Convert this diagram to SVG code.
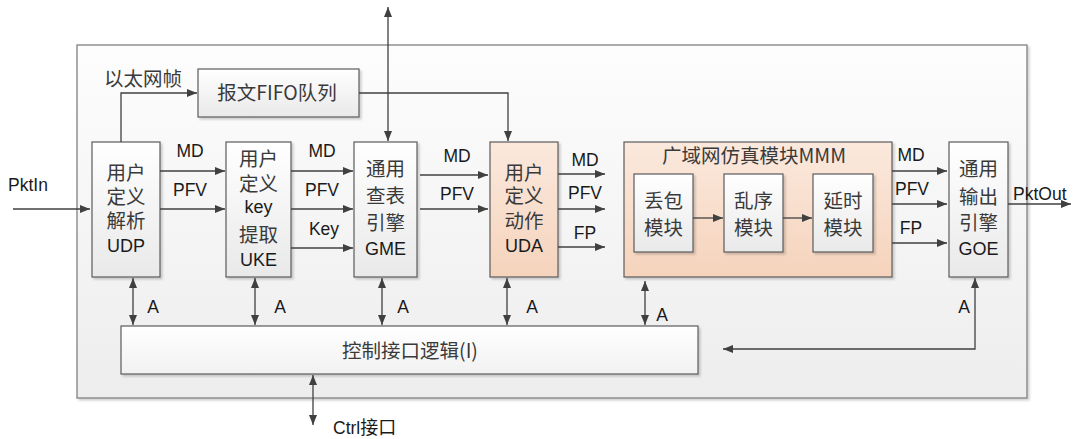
<svg xmlns="http://www.w3.org/2000/svg" width="1075" height="439" viewBox="0 0 1075 439">
<defs>
<linearGradient id="gOuter" x1="0" y1="0" x2="0" y2="1"><stop offset="0" stop-color="#fdfdfd"/><stop offset="1" stop-color="#ededed"/></linearGradient>
<linearGradient id="gWhite" x1="0" y1="0" x2="0" y2="1"><stop offset="0" stop-color="#ffffff"/><stop offset="1" stop-color="#e9e9e9"/></linearGradient>
<linearGradient id="gOrange" x1="0" y1="0" x2="0" y2="1"><stop offset="0" stop-color="#fbe9dd"/><stop offset="1" stop-color="#f5d3bc"/></linearGradient>
<linearGradient id="gCtrl" x1="0" y1="0" x2="0" y2="1"><stop offset="0" stop-color="#ffffff"/><stop offset="1" stop-color="#f1f1f1"/></linearGradient>
<filter id="sh" x="-10%" y="-10%" width="130%" height="130%"><feDropShadow dx="2" dy="2" stdDeviation="1" flood-color="#000" flood-opacity="0.18"/></filter>
<marker id="ah" markerUnits="userSpaceOnUse" markerWidth="10" markerHeight="8" refX="10" refY="4" orient="auto-start-reverse"><path d="M0,0 L10,4 L0,8 z" fill="#404040"/></marker>
</defs>
<style>
.box{fill:url(#gWhite);stroke:#5a5a5a;stroke-width:1.2;filter:url(#sh)}
.obox{fill:url(#gOrange);stroke:#5a5a5a;stroke-width:1.2;filter:url(#sh)}
.cn{font-family:"Noto Sans CJK SC","Noto Sans",sans-serif;font-size:19.5px;fill:#3a3a3a;text-anchor:middle}
.bt{font-family:"Liberation Sans","Noto Sans CJK SC",sans-serif;text-anchor:middle}
.bt .z{font-size:19.5px;fill:#3a3a3a}
.bt .e{font-size:18px;fill:#1a1a1a}
.lt{font-family:"Liberation Sans","Noto Sans CJK SC",sans-serif;font-size:17.5px;fill:#1a1a1a;text-anchor:middle}
.ls{font-family:"Liberation Sans","Noto Sans CJK SC",sans-serif;font-size:17.5px;fill:#1a1a1a}
.c{fill:none;stroke:#404040;stroke-width:1.3}
.a{marker-end:url(#ah)}
.d{marker-start:url(#ah);marker-end:url(#ah)}
</style>
<rect x="0" y="0" width="1075" height="439" fill="#ffffff"/>
<g id="outer"><rect x="77" y="45" width="950" height="353" fill="url(#gOuter)" stroke="#808080" stroke-width="1.3" filter="url(#sh)"/></g>

<g id="fifo"><rect class="box" x="198" y="69" width="161" height="48"/><text class="cn" x="277" y="100">报文FIFO队列</text></g>
<text class="cn" x="143" y="86">以太网帧</text>

<g id="udp"><rect class="box" x="92" y="142" width="68" height="135"/>
<text class="bt"><tspan class="z" x="126" y="180">用户</tspan><tspan class="z" x="126" y="204">定义</tspan><tspan class="z" x="126" y="228">解析</tspan><tspan class="e" x="126" y="251.5">UDP</tspan></text></g>

<g id="uke"><rect class="box" x="226" y="142" width="65" height="135"/>
<text class="bt"><tspan class="z" x="258.5" y="165.5">用户</tspan><tspan class="z" x="258.5" y="190.5">定义</tspan><tspan class="e" x="258.5" y="213">key</tspan><tspan class="z" x="258.5" y="241.5">提取</tspan><tspan class="e" x="258.5" y="265.5">UKE</tspan></text></g>

<g id="gme"><rect class="box" x="354" y="142" width="63" height="135"/>
<text class="bt"><tspan class="z" x="385.5" y="175.5">通用</tspan><tspan class="z" x="385.5" y="203">查表</tspan><tspan class="z" x="385.5" y="230">引擎</tspan><tspan class="e" x="385.5" y="254.5">GME</tspan></text></g>

<g id="uda"><rect class="obox" x="490" y="142" width="68" height="135"/>
<text class="bt"><tspan class="z" x="524" y="179.5">用户</tspan><tspan class="z" x="524" y="202.5">定义</tspan><tspan class="z" x="524" y="227.5">动作</tspan><tspan class="e" x="524" y="251.5">UDA</tspan></text></g>

<g id="mmm"><rect class="obox" x="624" y="142" width="268" height="135"/>
<text class="cn" x="754" y="162.5">广域网仿真模块MMM</text></g>
<g id="drop"><rect class="box" x="634" y="174" width="59" height="78"/><text class="bt"><tspan class="z" x="663.5" y="207.5">丢包</tspan><tspan class="z" x="663.5" y="234.5">模块</tspan></text></g>
<g id="reorder"><rect class="box" x="724" y="174" width="59" height="78"/><text class="bt"><tspan class="z" x="753.5" y="207.5">乱序</tspan><tspan class="z" x="753.5" y="234.5">模块</tspan></text></g>
<g id="delay"><rect class="box" x="813" y="174" width="60" height="78"/><text class="bt"><tspan class="z" x="843" y="207.5">延时</tspan><tspan class="z" x="843" y="234.5">模块</tspan></text></g>

<g id="goe"><rect class="box" x="949" y="142" width="59" height="135"/>
<text class="bt"><tspan class="z" x="978.5" y="175.5">通用</tspan><tspan class="z" x="978.5" y="203.5">输出</tspan><tspan class="z" x="978.5" y="229.5">引擎</tspan><tspan class="e" x="978.5" y="254.5">GOE</tspan></text></g>

<g id="ctrl"><rect x="121" y="326" width="577" height="48" fill="url(#gCtrl)" stroke="#5a5a5a" stroke-width="1.2" filter="url(#sh)"/>
<text class="cn" x="410" y="357.5">控制接口逻辑(I)</text></g>

<g id="connectors">
<path class="c a" d="M13 209 H90"/>
<path class="c a" d="M121 142 V93 H197"/>
<path class="c a" d="M160 171 H225"/>
<path class="c a" d="M160 209 H225"/>
<path class="c a" d="M291 171 H353"/>
<path class="c a" d="M291 209 H353"/>
<path class="c a" d="M291 248 H353"/>
<path class="c d" d="M388 7 V141"/>
<path class="c a" d="M359 93 H508 V141"/>
<path class="c a" d="M420 175 H488"/>
<path class="c a" d="M420 209 H488"/>
<path class="c a" d="M558 174 H605"/>
<path class="c a" d="M558 209 H605"/>
<path class="c a" d="M558 247 H605"/>
<path class="c a" d="M693 218 H723"/>
<path class="c a" d="M783 218 H812"/>
<path class="c a" d="M892 171 H947"/>
<path class="c a" d="M892 204 H947"/>
<path class="c a" d="M892 243 H947"/>
<path class="c a" d="M1008 204 H1071"/>
<path class="c d" d="M133 278 V325"/>
<path class="c d" d="M255 278 V325"/>
<path class="c d" d="M382 278 V325"/>
<path class="c d" d="M507 278 V325"/>
<path class="c d" d="M645 281 V325"/>
<path class="c d" d="M723 349 H975 V278"/>
<path class="c d" d="M313 375 V425"/>
</g>

<g id="labels">
<text class="ls" x="8" y="191">PktIn</text>
<text class="lt" x="190" y="157">MD</text><text class="lt" x="190" y="196">PFV</text>
<text class="lt" x="322" y="157">MD</text><text class="lt" x="322" y="196">PFV</text><text class="lt" x="324" y="235">Key</text>
<text class="lt" x="457" y="162">MD</text><text class="lt" x="457" y="200">PFV</text>
<text class="lt" x="585" y="166">MD</text><text class="lt" x="585" y="199">PFV</text><text class="lt" x="585" y="239">FP</text>
<text class="lt" x="911" y="161">MD</text><text class="lt" x="912" y="195">PFV</text><text class="lt" x="911" y="234">FP</text>
<text class="ls" x="1013" y="200">PktOut</text>
<text class="lt" x="153" y="313">A</text><text class="lt" x="280" y="313">A</text><text class="lt" x="403" y="313">A</text><text class="lt" x="532" y="313">A</text><text class="lt" x="662" y="321">A</text><text class="lt" x="964" y="313">A</text>
<text class="ls" x="333" y="434">Ctrl<tspan font-family="Noto Sans CJK SC, sans-serif" font-size="18">接口</tspan></text>
</g>
</svg>
